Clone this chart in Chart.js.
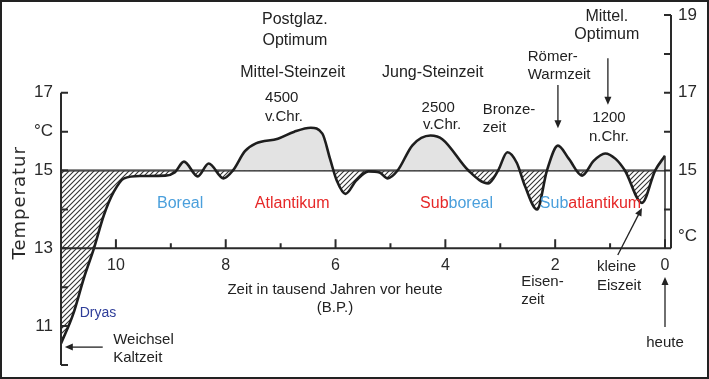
<!DOCTYPE html>
<html>
<head>
<meta charset="utf-8">
<script src="https://cdn.jsdelivr.net/npm/chart.js@4.4.1/dist/chart.umd.min.js"></script>
<style>
html, body { margin: 0; padding: 0; background: #fff; }
canvas { display: block; }
</style>
</head>
<body>
<canvas id="chart_temp" width="709" height="379"></canvas>
<script>
//Zeit in tausend Jahren vor heute (B.P.)
const years = [11.0, 10.78, 10.58, 10.4, 10.22, 10.04, 9.85, 9.55, 9.1, 8.93, 8.76, 8.51, 8.31, 8.04, 7.87, 7.65, 7.45, 7.05, 6.75, 6.45, 6.24, 6.1, 5.98, 5.82, 5.62, 5.4, 5.2, 5.05, 4.87, 4.6, 4.27, 4.05, 3.58, 3.22, 3.04, 2.87, 2.7, 2.55, 2.33, 2.15, 1.95, 1.75, 1.51, 1.3, 1.09, 0.9, 0.73, 0.42, 0.18, 0.0];
//Temperatur °C
const temps = [10.55, 11.3, 12.25, 13.0, 13.85, 14.45, 14.8, 14.86, 14.87, 14.95, 15.23, 14.85, 15.18, 14.8, 15.0, 15.5, 15.7, 15.82, 16.0, 16.1, 15.95, 15.3, 14.75, 14.4, 14.75, 14.98, 14.95, 14.8, 15.0, 15.65, 15.9, 15.8, 15.0, 14.67, 15.0, 15.47, 15.2, 14.6, 14.0, 15.0, 15.64, 15.3, 14.87, 15.25, 15.44, 15.3, 15.0, 14.17, 15.0, 15.38];
const baseTemp = 15;

//Achsen
const xTicks = [10, 8, 6, 4, 2, 0];
const leftTicks = [17, 16, 15, 13, 11];
const leftTickLabels = ['17', '°C', '15', '13', '11'];
const rightTicks = [19, 17, 15, 13.3];
const rightTickLabels = ['19', '17', '15', '°C'];

const FONT = "'Liberation Sans', Arial, sans-serif";

//Beschriftungen (x = kyr, y = °C)
const notes = [
    {text: 'Postglaz.', x: 6.74, y: 18.87, size: 16},
    {text: 'Optimum', x: 6.74, y: 18.33, size: 16},
    {text: 'Mittel-Steinzeit', x: 6.78, y: 17.51, size: 16},
    {text: '4500', x: 6.98, y: 16.87},
    {text: 'v.Chr.', x: 6.94, y: 16.38},
    {text: 'Jung-Steinzeit', x: 4.23, y: 17.51, size: 16},
    {text: '2500', x: 4.13, y: 16.61},
    {text: 'v.Chr.', x: 4.06, y: 16.17},
    {text: 'Bronze-', x: 3.32, y: 16.56, align: 'left'},
    {text: 'zeit', x: 3.32, y: 16.09, align: 'left'},
    {text: 'Römer-', x: 2.50, y: 17.92, align: 'left'},
    {text: 'Warmzeit', x: 2.50, y: 17.46, align: 'left'},
    {text: 'Mittel.', x: 1.06, y: 18.97, size: 16},
    {text: 'Optimum', x: 1.06, y: 18.49, size: 16},
    {text: '1200', x: 1.02, y: 16.35},
    {text: 'n.Chr.', x: 1.02, y: 15.86},
    {text: 'Dryas', x: 10.66, y: 11.34, align: 'left', color: '#2e3d99', size: 14},
    {text: 'Weichsel', x: 10.05, y: 10.64, align: 'left'},
    {text: 'Kaltzeit', x: 10.05, y: 10.18, align: 'left'},
    {text: 'Zeit in tausend Jahren vor heute', x: 6.01, y: 11.93},
    {text: '(B.P.)', x: 6.01, y: 11.47},
    {text: 'Eisen-', x: 2.62, y: 12.13, align: 'left'},
    {text: 'zeit', x: 2.62, y: 11.67, align: 'left'},
    {text: 'kleine', x: 1.24, y: 12.52, align: 'left'},
    {text: 'Eiszeit', x: 1.24, y: 12.03, align: 'left'},
    {text: 'heute', x: 0, y: 10.57}
];

//Perioden (mehrfarbig)
const BLUE = '#4a9fdc';
const RED = '#e62828';
const periods = [
    {x: 8.83, y: 14.14, align: 'center', parts: [['Boreal', BLUE]]},
    {x: 6.79, y: 14.14, align: 'center', parts: [['Atlantikum', RED]]},
    {x: 4.46, y: 14.14, align: 'left', parts: [['Sub', RED], ['boreal', BLUE]]},
    {x: 2.28, y: 14.14, align: 'left', parts: [['Sub', BLUE], ['atlantikum', RED]]}
];

//Pfeile [von, nach]
const arrows = [
    [[10.24, 10.46], [10.93, 10.46]],
    [[1.95, 17.2], [1.95, 16.09]],
    [[1.04, 17.89], [1.04, 16.69]],
    [[0.86, 12.83], [0.42, 14.04]],
    [[0, 10.98], [0, 12.26]]
];

const canvas = document.getElementById('chart_temp');
const mainCtx = canvas.getContext('2d');

//Schraffur für Werte unter 15 °C
function makeHatch() {
    const c = document.createElement('canvas');
    c.width = 5; c.height = 5;
    const g = c.getContext('2d');
    g.strokeStyle = '#333';
    g.lineWidth = 1.1;
    g.beginPath();
    g.moveTo(0, 5); g.lineTo(5, 0);
    g.moveTo(-1, 1); g.lineTo(1, -1);
    g.moveTo(4, 6); g.lineTo(6, 4);
    g.stroke();
    return mainCtx.createPattern(c, 'repeat');
}

function drawArrow(ctx, x1, y1, x2, y2) {
    const ang = Math.atan2(y2 - y1, x2 - x1);
    const len = 8, half = 3.5;
    ctx.beginPath();
    ctx.moveTo(x1, y1);
    ctx.lineTo(x2 - Math.cos(ang) * len * 0.8, y2 - Math.sin(ang) * len * 0.8);
    ctx.stroke();
    ctx.beginPath();
    ctx.moveTo(x2, y2);
    ctx.lineTo(x2 - Math.cos(ang) * len - Math.sin(ang) * half, y2 - Math.sin(ang) * len + Math.cos(ang) * half);
    ctx.lineTo(x2 - Math.cos(ang) * len + Math.sin(ang) * half, y2 - Math.sin(ang) * len - Math.cos(ang) * half);
    ctx.closePath();
    ctx.fill();
}

//Achsenlinien, Striche und Beschriftungen
const decorPlugin = {
    id: 'decor',
    afterDatasetsDraw(chart) {
        const {ctx} = chart;
        const x = chart.scales.x;
        const y = chart.scales.y;
        const x0 = x.getPixelForValue(0);
        const x11 = x.getPixelForValue(11);
        ctx.save();
        ctx.strokeStyle = '#2a2a2a';
        ctx.fillStyle = '#2a2a2a';
        ctx.lineWidth = 2;

        //linke Achse
        ctx.beginPath();
        ctx.moveTo(x11, y.getPixelForValue(17));
        ctx.lineTo(x11, y.getPixelForValue(10));
        for (let t = 10; t <= 17; t++) {
            ctx.moveTo(x11, y.getPixelForValue(t));
            ctx.lineTo(x11 + 7, y.getPixelForValue(t));
        }
        ctx.stroke();

        //rechte Achse
        ctx.beginPath();
        ctx.moveTo(x0 + 6, y.getPixelForValue(19));
        ctx.lineTo(x0 + 6, y.getPixelForValue(13));
        for (let t = 14; t <= 19; t++) {
            ctx.moveTo(x0 + 6, y.getPixelForValue(t));
            ctx.lineTo(x0 - 1, y.getPixelForValue(t));
        }
        ctx.stroke();
        ctx.lineWidth = 1.5;
        ctx.beginPath();
        ctx.moveTo(x0, y.getPixelForValue(13));
        ctx.lineTo(x0, y.getPixelForValue(temps[temps.length - 1]));
        ctx.stroke();

        //x-Achse
        ctx.lineWidth = 2;
        const yAx = y.getPixelForValue(13);
        ctx.beginPath();
        ctx.moveTo(x11, yAx);
        ctx.lineTo(x0 + 6, yAx);
        for (let k = 0; k <= 10; k++) {
            const px = x.getPixelForValue(k);
            ctx.moveTo(px, yAx);
            ctx.lineTo(px, yAx - (k % 2 === 0 ? 9 : 5));
        }
        ctx.stroke();

        //Texte
        ctx.textBaseline = 'middle';
        notes.forEach(n => {
            ctx.font = (n.size || 15) + 'px ' + FONT;
            ctx.fillStyle = n.color || '#222';
            ctx.textAlign = n.align || 'center';
            ctx.fillText(n.text, x.getPixelForValue(n.x), y.getPixelForValue(n.y));
        });

        ctx.font = '16px ' + FONT;
        ctx.textAlign = 'left';
        periods.forEach(p => {
            const total = p.parts.reduce((s, [t]) => s + ctx.measureText(t).width, 0);
            let px = x.getPixelForValue(p.x) - (p.align === 'center' ? total / 2 : 0);
            p.parts.forEach(([t, col]) => {
                ctx.fillStyle = col;
                ctx.fillText(t, px, y.getPixelForValue(p.y));
                px += ctx.measureText(t).width;
            });
        });

        //Temperatur (gedreht)
        ctx.save();
        ctx.translate(x.getPixelForValue(11.74), y.getPixelForValue(14.17));
        ctx.rotate(-Math.PI / 2);
        ctx.font = "18px 'DejaVu Sans', sans-serif";
        ctx.letterSpacing = '1px';
        ctx.fillStyle = '#2a2a2a';
        ctx.textAlign = 'center';
        ctx.fillText('Temperatur', 0, 0);
        ctx.restore();

        //Pfeile
        ctx.strokeStyle = '#222';
        ctx.fillStyle = '#222';
        ctx.lineWidth = 1.3;
        arrows.forEach(([a, b]) => {
            drawArrow(ctx, x.getPixelForValue(a[0]), y.getPixelForValue(a[1]),
                x.getPixelForValue(b[0]), y.getPixelForValue(b[1]));
        });

        //Rahmen
        ctx.lineWidth = 2;
        ctx.strokeStyle = '#222';
        ctx.strokeRect(1, 1, chart.width - 2, chart.height - 2);
        ctx.restore();
    }
};

//Achsen sollen keinen zusätzlichen Rand beanspruchen
function noPad(s) {
    s.paddingTop = 0;
    s.paddingBottom = 0;
    s.paddingLeft = 0;
    s.paddingRight = 0;
}

const tickFont = {family: FONT, size: 17};

new Chart(canvas, {
    type: 'line',
    data: {
        datasets: [{
            data: years.map((v, i) => ({x: v, y: temps[i]})),
            borderColor: '#1e1e1e',
            borderWidth: 2.6,
            pointRadius: 0,
            cubicInterpolationMode: 'monotone',
            fill: {target: {value: baseTemp}, above: '#e3e3e3', below: makeHatch()}
        }, {
            data: [{x: 11, y: baseTemp}, {x: 0, y: baseTemp}],
            borderColor: '#1e1e1e',
            borderWidth: 2,
            pointRadius: 0,
            fill: false
        }]
    },
    options: {
        responsive: false,
        animation: false,
        layout: {padding: {top: 15, bottom: 14, left: 0, right: 0}},
        plugins: {
            legend: {display: false},
            tooltip: {enabled: false}
        },
        scales: {
            x: {
                type: 'linear',
                min: 0,
                max: 11,
                reverse: true,
                position: {y: 13},
                afterBuildTicks: s => { s.ticks = xTicks.map(v => ({value: v})); },
                afterFit: noPad,
                grid: {display: false, drawTicks: false},
                border: {display: false},
                ticks: {padding: 8, color: '#2a2a2a', font: {family: FONT, size: 16}, maxRotation: 0}
            },
            y: {
                type: 'linear',
                min: 10,
                max: 19,
                position: 'left',
                afterFit: s => { s.width = 61; noPad(s); },
                afterBuildTicks: s => { s.ticks = leftTicks.map(v => ({value: v})); },
                grid: {display: false, drawTicks: false},
                border: {display: false},
                ticks: {
                    padding: 8,
                    color: '#2a2a2a',
                    font: tickFont,
                    callback: v => leftTickLabels[leftTicks.indexOf(v)] ?? ''
                }
            },
            y2: {
                type: 'linear',
                min: 10,
                max: 19,
                position: 'right',
                afterFit: s => { s.width = 44; noPad(s); },
                afterBuildTicks: s => { s.ticks = rightTicks.map(v => ({value: v})); },
                grid: {display: false, drawTicks: false},
                border: {display: false},
                ticks: {
                    padding: 13,
                    color: '#2a2a2a',
                    font: tickFont,
                    callback: v => rightTickLabels[rightTicks.indexOf(v)] ?? ''
                }
            }
        }
    },
    plugins: [decorPlugin]
});
</script>
</body>
</html>
